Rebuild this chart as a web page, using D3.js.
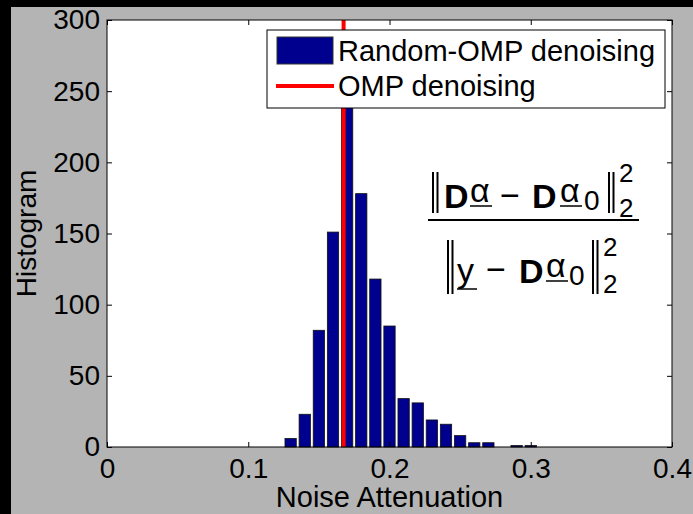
<!DOCTYPE html>
<html>
<head>
<meta charset="utf-8">
<script src="https://cdn.jsdelivr.net/npm/d3@7"></script>
<style>
  body { margin: 0; background: #000; }
  svg { display: block; }
</style>
</head>
<body>
<div id="chartContainer"></div>
<script>
// histogram bins (bin centres) and counts
var binCenters = [0.13, 0.14, 0.15, 0.16, 0.17, 0.18, 0.19, 0.20, 0.21, 0.22, 0.23, 0.24, 0.25, 0.26, 0.27, 0.28, 0.29, 0.30];
var counts = [6, 23, 82, 151, 240, 178, 118, 85, 34, 31, 19, 16, 8, 3, 3, 0, 1, 1];
var binWidth = 0.01;
var ompValue = 0.1675;

var xTicks = [0, 0.1, 0.2, 0.3, 0.4];
var yTicks = [0, 50, 100, 150, 200, 250, 300];
var legendLabels = ["Random-OMP denoising", "OMP denoising"];

var W = 693, H = 514;
var font = "'Liberation Sans', Arial, Helvetica, sans-serif";

var svg = d3.select("#chartContainer").append("svg")
  .attr("width", W).attr("height", H);

// figure background (black frame on top / left like the screenshot)
svg.append("rect").attr("width", W).attr("height", H).attr("fill", "#000");
svg.append("rect").attr("x", 11).attr("y", 7).attr("width", W - 11).attr("height", H - 7).attr("fill", "#b4b4b4");

// plot box
var pLeft = 107, pRight = 672, pTop = 20, pBottom = 447;

var x = d3.scaleLinear().domain([0, 0.4]).range([pLeft, pRight]);
var y = d3.scaleLinear().domain([0, 300]).range([pBottom, pTop]);

svg.append("rect")
  .attr("x", pLeft).attr("y", pTop)
  .attr("width", pRight - pLeft).attr("height", pBottom - pTop)
  .attr("fill", "#fff");

// bars
var barW = 0.8 * binWidth;
svg.append("g").selectAll("rect")
  .data(binCenters)
  .join("rect")
  .attr("x", function (d) { return x(d - barW / 2); })
  .attr("width", function (d) { return x(barW) - x(0); })
  .attr("y", function (d, i) { return y(counts[i]); })
  .attr("height", function (d, i) { return y(0) - y(counts[i]); })
  .attr("fill", "#00008f")
  .attr("stroke", "#111")
  .attr("stroke-width", 0.8)
  .style("display", function (d, i) { return counts[i] > 0 ? null : "none"; });

// omp line
svg.append("line")
  .attr("x1", x(ompValue)).attr("x2", x(ompValue))
  .attr("y1", y(300)).attr("y2", y(0))
  .attr("stroke", "#ff0000").attr("stroke-width", 4);

// axes, ticks inside like matlab
var xAxis = svg.append("g").attr("transform", "translate(0," + pBottom + ")")
  .call(d3.axisBottom(x).tickValues(xTicks).tickSize(-5).tickSizeOuter(0).tickPadding(11)
    .tickFormat(function (d) { return d === 0 ? "0" : d3.format(".1f")(d); }));
var xTop = svg.append("g").attr("transform", "translate(0," + pTop + ")")
  .call(d3.axisTop(x).tickValues(xTicks).tickSize(-5).tickSizeOuter(0).tickFormat(""));
var yAxis = svg.append("g").attr("transform", "translate(" + pLeft + ",0)")
  .call(d3.axisLeft(y).tickValues(yTicks).tickSize(-5).tickSizeOuter(0).tickPadding(7));
var yRight = svg.append("g").attr("transform", "translate(" + pRight + ",0)")
  .call(d3.axisRight(y).tickValues(yTicks).tickSize(-5).tickSizeOuter(0).tickFormat(""));

[xAxis, xTop, yAxis, yRight].forEach(function (g) {
  g.select(".domain").remove();
  g.selectAll("line").attr("stroke", "#000");
  g.selectAll("text").attr("fill", "#000").style("font-family", font).style("font-size", "28px");
});

svg.append("rect")
  .attr("x", pLeft).attr("y", pTop)
  .attr("width", pRight - pLeft).attr("height", pBottom - pTop)
  .attr("fill", "none").attr("stroke", "#000").attr("stroke-width", 1);

// axis titles
svg.append("text")
  .attr("x", (pLeft + pRight) / 2).attr("y", 507)
  .attr("text-anchor", "middle")
  .style("font-family", font).style("font-size", "29px")
  .text("Noise Attenuation");

svg.append("text")
  .attr("transform", "translate(36," + (pTop + pBottom) / 2 + ") rotate(-90)")
  .attr("text-anchor", "middle")
  .style("font-family", font).style("font-size", "28px")
  .text("Histogram");

// legend
var lg = svg.append("g");
lg.append("rect").attr("x", 267).attr("y", 30).attr("width", 398).attr("height", 78)
  .attr("fill", "#fff").attr("stroke", "#000");
lg.append("rect").attr("x", 277).attr("y", 37).attr("width", 56).attr("height", 27)
  .attr("fill", "#00008f").attr("stroke", "#333");
lg.append("line").attr("x1", 276).attr("x2", 334).attr("y1", 86).attr("y2", 86)
  .attr("stroke", "#ff0000").attr("stroke-width", 4);
lg.selectAll("text.lab").data(legendLabels).join("text")
  .attr("class", "lab")
  .attr("x", 338)
  .attr("y", function (d, i) { return 61 + i * 35; })
  .style("font-family", font).style("font-size", "29px")
  .text(function (d) { return d; });

// formula ||Da - Da0||^2_2 / ||y - Da0||^2_2
var fm = svg.append("g").style("font-family", font).attr("fill", "#000");

function piece(txt, px, py, size, bold) {
  return fm.append("text").attr("x", px).attr("y", py)
    .style("font-size", size + "px").style("font-weight", bold ? "bold" : "normal")
    .text(txt);
}
function bar(px, y1, y2) {
  fm.append("line").attr("x1", px).attr("x2", px).attr("y1", y1).attr("y2", y2)
    .attr("stroke", "#000").attr("stroke-width", 2);
}
function under(x1, x2, py) {
  fm.append("line").attr("x1", x1).attr("x2", x2).attr("y1", py).attr("y2", py)
    .attr("stroke", "#000").attr("stroke-width", 1.5);
}

// numerator
bar(433, 172, 213); bar(437.5, 172, 213);
piece("D", 444, 208, 34, true);
piece("\u03b1", 470, 202, 34); under(470, 492, 206);
piece("\u2212", 500, 207, 34);
piece("D", 532, 208, 34, true);
piece("\u03b1", 560, 202, 34); under(560, 582, 206);
piece("0", 584, 210, 28);
bar(609, 172, 213); bar(613.5, 172, 213);
piece("2", 619, 182, 26);
piece("2", 619, 217, 26);

// fraction line
fm.append("line").attr("x1", 428).attr("x2", 639).attr("y1", 220).attr("y2", 220)
  .attr("stroke", "#000").attr("stroke-width", 2);

// denominator
bar(448, 240, 294); bar(452.5, 240, 294);
piece("y", 457, 282, 34); under(457, 477, 289);
piece("\u2212", 486, 281, 34);
piece("D", 519, 283, 34, true);
piece("\u03b1", 546, 277, 34); under(546, 568, 281);
piece("0", 569, 285, 28);
bar(593, 240, 294); bar(597.5, 240, 294);
piece("2", 603, 256, 26);
piece("2", 603, 293, 26);
</script>
</body>
</html>
